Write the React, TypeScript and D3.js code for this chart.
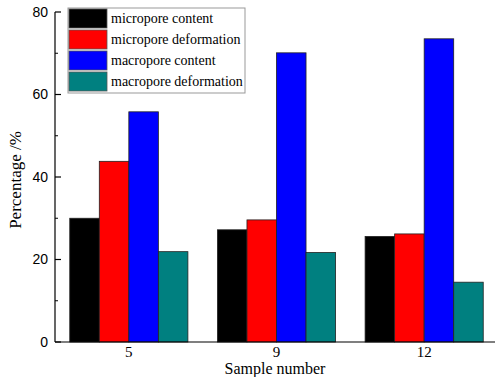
import React from "react";
import * as d3 from "d3";

const samples = ["5", "9", "12"];
const seriesNames = [
  "micropore content",
  "micropore deformation",
  "macropore content",
  "macropore deformation",
];
const microporeContent = [30.0, 27.2, 25.6];
const microporeDeformation = [43.8, 29.6, 26.2];
const macroporeContent = [55.8, 70.1, 73.5];
const macroporeDeformation = [21.9, 21.7, 14.5];
const colors = ["#000000", "#ff0000", "#0000ff", "#008080"];
const yTicks = [0, 20, 40, 60, 80];
const yMinorTicks = [10, 30, 50, 70];

const W = 495;
const H = 377;
const margin = { left: 55, top: 12, right: -3, bottom: 35 };

export default function App() {
  const series = [microporeContent, microporeDeformation, macroporeContent, macroporeDeformation];
  const x = d3
    .scaleBand<string>()
    .domain(samples)
    .range([margin.left, W - margin.right])
    .paddingInner(0.2)
    .paddingOuter(0.1);
  const inner = d3
    .scaleBand<number>()
    .domain(d3.range(series.length))
    .range([0, x.bandwidth()]);
  const y = d3.scaleLinear().domain([0, 80]).range([H - margin.bottom, margin.top]);
  const serif = "'Liberation Serif', 'Times New Roman', serif";
  const sans = "'Liberation Sans', Arial, sans-serif";

  const legendX = 68;
  const legendY = 8;
  const rowH = 21;

  return (
    <svg
      width={W}
      height={H}
      style={{ position: "absolute", left: 0, top: 0, background: "#fff" }}
    >
      {/* bars */}
      {samples.map((s, i) => (
        <g key={s}>
          {series.map((vals, k) => (
            <rect
              key={k}
              x={(x(s) as number) + (inner(k) as number)}
              y={y(vals[i])}
              width={inner.bandwidth()}
              height={y(0) - y(vals[i])}
              fill={colors[k]}
              stroke="#222"
              strokeWidth={0.8}
            />
          ))}
        </g>
      ))}

      {/* y axis */}
      <line x1={margin.left} x2={margin.left} y1={y(0)} y2={y(80)} stroke="#000" strokeWidth={1.2} />
      {yTicks.map((t) => (
        <g key={t}>
          <line x1={margin.left} x2={margin.left + 6} y1={y(t)} y2={y(t)} stroke="#000" strokeWidth={1.2} />
          <text
            x={margin.left - 7}
            y={y(t)}
            dy="0.35em"
            textAnchor="end"
            fontFamily={sans}
            fontSize={14}
          >
            {t}
          </text>
        </g>
      ))}
      {yMinorTicks.map((t) => (
        <line key={t} x1={margin.left} x2={margin.left + 3} y1={y(t)} y2={y(t)} stroke="#000" strokeWidth={1} />
      ))}

      {/* x axis */}
      <line x1={margin.left} x2={W} y1={y(0)} y2={y(0)} stroke="#000" strokeWidth={1.2} />
      {samples.map((s) => (
        <text
          key={s}
          x={(x(s) as number) + x.bandwidth() / 2}
          y={y(0) + 15}
          textAnchor="middle"
          fontFamily={serif}
          fontSize={15}
        >
          {s}
        </text>
      ))}
      <text x={275} y={374} textAnchor="middle" fontFamily={serif} fontSize={16}>
        Sample number
      </text>
      <text
        transform={`translate(21, 180) rotate(-90)`}
        textAnchor="middle"
        fontFamily={serif}
        fontSize={17}
      >
        Percentage /%
      </text>

      {/* legend */}
      <rect x={legendX} y={legendY} width={177} height={rowH * 4 + 1} fill="#fff" stroke="#999" strokeWidth={1} />
      {seriesNames.map((n, k) => (
        <g key={n}>
          <rect
            x={legendX + 1}
            y={legendY + 1 + k * rowH}
            width={38}
            height={rowH - 2}
            fill={colors[k]}
            stroke="#555"
            strokeWidth={0.8}
          />
          <text
            x={legendX + 43}
            y={legendY + rowH / 2 + k * rowH}
            dy="0.35em"
            fontFamily={serif}
            fontSize={14}
          >
            {n}
          </text>
        </g>
      ))}
    </svg>
  );
}
